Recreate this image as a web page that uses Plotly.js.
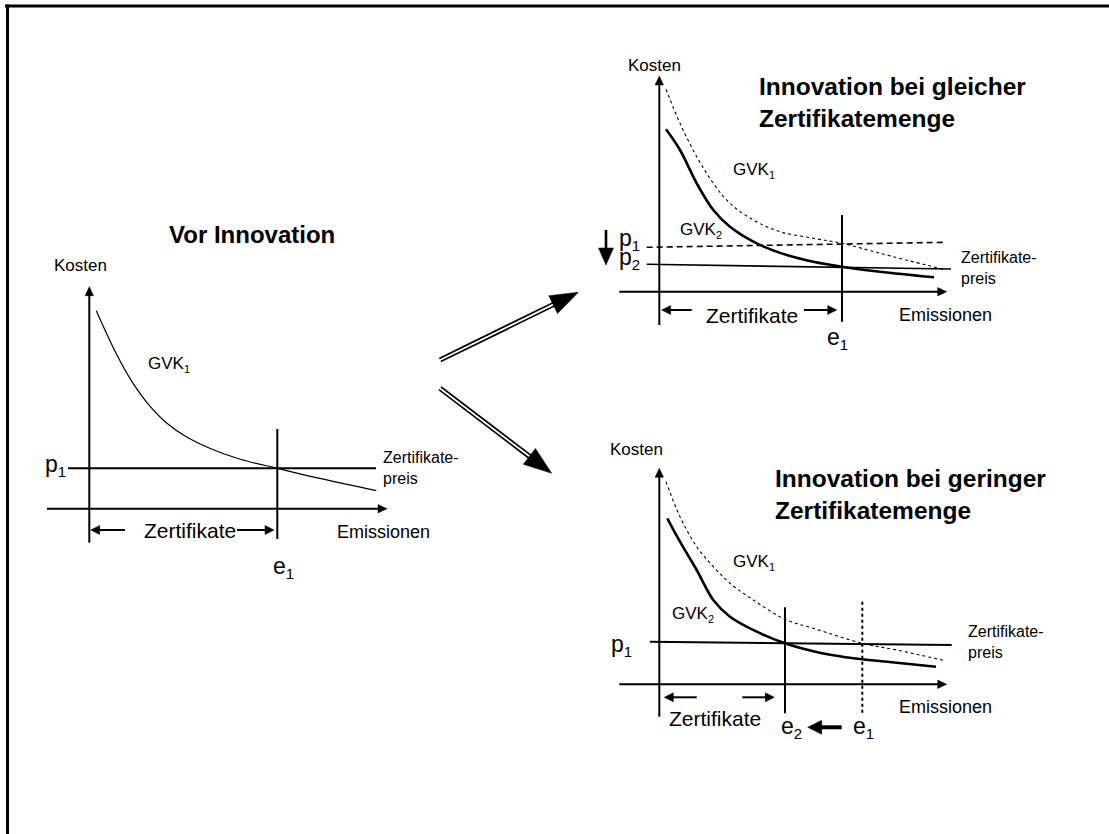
<!DOCTYPE html>
<html><head><meta charset="utf-8">
<script src="https://cdn.plot.ly/plotly-3.0.1.min.js"></script>
<style>html,body{margin:0;padding:0;background:#fff;}#chart{width:1109px;height:834px;}</style>
</head><body><div id="chart"></div>
<script>
// ===== DATA (panel units: x = Emissionen, y = Kosten; origin = axis crossing) =====
// Panel A: Vor Innovation
const A_gvk1_x = [0.7, 2.7, 4.4, 6.1, 7.7, 9.7, 12.4, 15.1, 18.8, 22.7, 28.7];
const A_gvk1_y = [19.8, 15.5, 12.5, 10.2, 8.6, 7.2, 5.9, 4.95, 4.04, 3.1, 1.8];
const A_price_x = [-2.13, 28.67];
const A_price_y = [4.04, 4.04];           // p1
const A_e1 = 18.8;

// Panel B: Innovation bei gleicher Zertifikatemenge
const B_gvk1_x = [0.67, 2.07, 3.74, 5.4, 7.07, 9.4, 12.07, 15.4, 18.27, 22.07, 28.4];
const B_gvk1_y = [20.24, 16.84, 13.5, 10.84, 8.84, 7.17, 6.0, 5.34, 4.84, 3.84, 2.24];
const B_gvk2_x = [0.67, 2.07, 3.74, 5.4, 7.07, 9.74, 12.74, 15.4, 18.27, 22.07, 27.47];
const B_gvk2_y = [16.24, 14.17, 10.84, 8.17, 6.5, 4.84, 3.67, 3.0, 2.5, 2.0, 1.44];
const B_p1_x = [-1.26, 28.57];
const B_p1_y = [4.44, 4.94];              // p1 (alt)
const B_p2_x = [-1.26, 29.17];
const B_p2_y = [2.74, 2.27];              // p2 (neu)
const B_e1 = 18.27;

// Panel C: Innovation bei geringer Zertifikatemenge
const C_gvk1_x = [0.67, 2.07, 3.74, 5.4, 7.07, 9.4, 12.57, 15.4, 20.3, 23.74, 28.57];
const C_gvk1_y = [20.26, 16.76, 13.76, 11.76, 10.1, 8.43, 6.5, 5.6, 4.1, 3.43, 2.36];
const C_gvk2_x = [0.8, 2.07, 3.74, 5.4, 7.07, 9.74, 12.57, 15.4, 17.24, 20.3, 23.74, 27.67];
const C_gvk2_y = [16.6, 14.26, 11.43, 8.43, 6.76, 5.26, 4.1, 3.3, 2.93, 2.5, 2.16, 1.76];
const C_p1_x = [-0.93, 29.24];
const C_p1_y = [4.26, 3.93];              // p1
const C_e2 = 12.57;
const C_e1 = 20.3;

// ===== LAYOUT GEOMETRY =====
const W = 1109, H = 834, S = 10; // S = px per panel unit
const PANELS = [
  {id: '',  origin: [89.3, 508.7],  box: [30, 440, 215, 600]},
  {id: '2', origin: [659.3, 291.7], box: [590, 1100, 40, 360]},
  {id: '3', origin: [659.3, 684.3], box: [590, 1100, 420, 760]},
];
const FONT = 'Liberation Sans, Arial, Helvetica, sans-serif';

const traces = [];
function ln(id, xs, ys, width, dash, shape, color) {
  traces.push({type: 'scatter', mode: 'lines', x: xs, y: ys,
    xaxis: 'x' + id, yaxis: 'y' + id, hoverinfo: 'skip', showlegend: false,
    line: {color: color || '#000', width: width, dash: dash || 'solid', shape: shape || 'linear', smoothing: 1}});
}
function arrow(id, tail, tip, width, len, hw) {
  const dx = tip[0] - tail[0], dy = tip[1] - tail[1];
  const d = Math.hypot(dx, dy), ux = dx / d, uy = dy / d, nx = -uy, ny = ux;
  const bx = tip[0] - ux * len, by = tip[1] - uy * len;
  ln(id, [tail[0], bx + ux * len * 0.3], [tail[1], by + uy * len * 0.3], width);
  traces.push({type: 'scatter', mode: 'lines', fill: 'toself', fillcolor: '#000',
    x: [tip[0], bx + nx * hw, bx - nx * hw, tip[0]], y: [tip[1], by + ny * hw, by - ny * hw, tip[1]],
    xaxis: 'x' + id, yaxis: 'y' + id, hoverinfo: 'skip', showlegend: false, line: {color: '#000', width: 0.5}});
}
function doubleArrow(id, tail, tip, len, hw) {
  const dx = tip[0] - tail[0], dy = tip[1] - tail[1];
  const d = Math.hypot(dx, dy), ux = dx / d, uy = dy / d, nx = -uy, ny = ux;
  const bx = tip[0] - ux * len, by = tip[1] - uy * len;
  ln(id, [tail[0], bx + ux * 2], [tail[1], by + uy * 2], 5.2);
  ln(id, [tail[0] - ux * 1, bx], [tail[1] - uy * 1, by], 1.8, 'solid', 'linear', '#fff');
  traces.push({type: 'scatter', mode: 'lines', fill: 'toself', fillcolor: '#000',
    x: [tip[0], bx + nx * hw, bx - nx * hw, tip[0]], y: [tip[1], by + ny * hw, by - ny * hw, tip[1]],
    xaxis: 'x' + id, yaxis: 'y' + id, hoverinfo: 'skip', showlegend: false, line: {color: '#000', width: 0.5}});
}

// ---- Panel A ----
arrow('', [0, -3.4], [0, 22.2], 2, 0.9, 0.42);          // Kosten axis
arrow('', [-4.23, 0], [29.77, 0], 2, 0.9, 0.42);         // Emissionen axis
ln('', A_price_x, A_price_y, 2);
ln('', [A_e1, A_e1], [-3.03, 7.97], 2);
ln('', A_gvk1_x, A_gvk1_y, 1.2, 'solid', 'spline');
arrow('', [3.57, -2.13], [0.14, -2.13], 2, 0.9, 0.45);
arrow('', [14.77, -2.13], [A_e1 - 0.33, -2.13], 2, 0.9, 0.45);

// ---- Panel B ----
arrow('2', [0, -3.33], [0, 21.57], 2, 0.9, 0.42);
arrow('2', [-4.0, 0], [28.74, 0], 2, 0.9, 0.42);
ln('2', B_p1_x, B_p1_y, 1.6, '6px,4px');
ln('2', B_p2_x, B_p2_y, 1.6);
ln('2', [B_e1, B_e1], [-3.0, 7.67], 2);
ln('2', B_gvk1_x, B_gvk1_y, 1.1, '3px,3px', 'spline');
ln('2', B_gvk2_x, B_gvk2_y, 2.6, 'solid', 'spline');
arrow('2', [3.24, -1.83], [0.24, -1.83], 2, 0.9, 0.45);
arrow('2', [14.47, -1.83], [B_e1 - 0.53, -1.83], 2, 0.9, 0.45);
arrow('2', [-5.33, 6.17], [-5.33, 2.67], 2.6, 1.7, 0.75); // price falls

// ---- Panel C ----
arrow('3', [0, -3.24], [0, 21.6], 2, 0.9, 0.42);
arrow('3', [-4.0, 0], [28.74, 0], 2, 0.9, 0.42);
ln('3', C_p1_x, C_p1_y, 2);
ln('3', [C_e2, C_e2], [-2.9, 7.7], 2);
ln('3', [C_e1, C_e1], [-2.84, 8.26], 2, 'dot');
ln('3', C_gvk1_x, C_gvk1_y, 1.1, '3px,3px', 'spline');
ln('3', C_gvk2_x, C_gvk2_y, 2.6, 'solid', 'spline');
arrow('3', [3.74, -1.3], [0.5, -1.3], 2, 0.9, 0.45);
arrow('3', [8.3, -1.3], [11.5, -1.3], 2, 0.9, 0.45);
arrow('3', [18.24, -4.3], [14.84, -4.3], 4, 1.4, 0.7);    // e1 -> e2

// ---- Connectors (page px) ----
doubleArrow('4', [440, 360], [578.3, 292.3], 28, 10);
doubleArrow('4', [440, 388.3], [551.7, 473.3], 28, 10);

// ===== ANNOTATIONS =====
const ann = [];
function sub(base, idx, px) {
  return base + '<sub><span style="font-size:' + px + 'px">' + idx + '</span></sub>';
}
function txt(id, x, y, text, size, xanchor, bold, align) {
  ann.push({xref: 'x' + id, yref: 'y' + id, x: x, y: y, text: bold ? '<b>' + text + '</b>' : text,
    showarrow: false, xanchor: xanchor || 'left', yanchor: 'middle', align: align || 'left',
    font: {family: FONT, size: size, color: '#000'}});
}
// Panel A
txt('', 16.24, 27.37, 'Vor Innovation', 24, 'center', true);
txt('', -3.73, 24.3, 'Kosten', 17);
txt('', 5.64, 14.47, sub('GVK', '1', 11), 17);
txt('', -4.66, 4.3, sub('p', '1', 15), 23);
txt('', 29.17, 4.1, 'Zertifikate-<br>preis', 16);
txt('', 10.07, -2.13, 'Zertifikate', 21, 'center');
txt('', 24.57, -2.3, 'Emissionen', 18);
txt('', 18.14, -5.83, sub('e', '1', 15), 23);
// Panel B
txt('2', 9.74, 18.97, 'Innovation bei gleicher<br>Zertifikatemenge', 24.5, 'left', true);
txt('2', -3.36, 22.67, 'Kosten', 17);
txt('2', 7.14, 12.1, sub('GVK', '1', 11), 17);
txt('2', 1.9, 6.1, sub('GVK', '2', 11), 17);
txt('2', -4.2, 5.24, sub('p', '1', 15), 23);
txt('2', -4.2, 3.3, sub('p', '2', 15), 23);
txt('2', 29.97, 2.42, 'Zertifikate-<br>preis', 16);
txt('2', 9.24, -2.33, 'Zertifikate', 21, 'center');
txt('2', 23.8, -2.33, 'Emissionen', 18);
txt('2', 16.57, -4.7, sub('e', '1', 15), 23);
// Panel C
txt('3', 11.4, 19.0, 'Innovation bei geringer<br>Zertifikatemenge', 24.5, 'left', true);
txt('3', -5.1, 23.5, 'Kosten', 17);
txt('3', 7.14, 12.16, sub('GVK', '1', 11), 17);
txt('3', 1.07, 7.03, sub('GVK', '2', 11), 17);
txt('3', -5.0, 3.9, sub('p', '1', 15), 23);
txt('3', 30.64, 4.26, 'Zertifikate-<br>preis', 16);
txt('3', 5.54, -3.4, 'Zertifikate', 21, 'center');
txt('3', 23.8, -2.24, 'Emissionen', 18);
txt('3', 11.97, -4.27, sub('e', '2', 15), 23);
txt('3', 19.17, -4.27, sub('e', '1', 15), 23);

// ===== LAYOUT =====
const layout = {
  width: W, height: H, margin: {l: 0, r: 0, t: 0, b: 0, pad: 0},
  paper_bgcolor: '#fff', plot_bgcolor: 'rgba(0,0,0,0)', showlegend: false,
  font: {family: FONT, color: '#000'},
  annotations: ann,
  shapes: [
    {type: 'line', xref: 'paper', yref: 'paper', x0: 5 / W, x1: 1, y0: 1 - 6 / H, y1: 1 - 6 / H, line: {color: '#000', width: 3}},
    {type: 'line', xref: 'paper', yref: 'paper', x0: 7.5 / W, x1: 7.5 / W, y0: 0, y1: 1 - 4.5 / H, line: {color: '#000', width: 3}},
  ],
};
PANELS.forEach(p => {
  const [L, R, T, B] = p.box, [ox, oy] = p.origin;
  layout['xaxis' + p.id] = {domain: [L / W, R / W], range: [(L - ox) / S, (R - ox) / S], visible: false, fixedrange: true, anchor: 'y' + p.id};
  layout['yaxis' + p.id] = {domain: [(H - B) / H, (H - T) / H], range: [(oy - B) / S, (oy - T) / S], visible: false, fixedrange: true, anchor: 'x' + p.id};
});
layout.xaxis4 = {domain: [0, 1], range: [0, W], visible: false, fixedrange: true, anchor: 'y4'};
layout.yaxis4 = {domain: [0, 1], range: [H, 0], visible: false, fixedrange: true, anchor: 'x4'};

Plotly.newPlot('chart', traces, layout, {staticPlot: true, displayModeBar: false});
</script>
</body></html>
